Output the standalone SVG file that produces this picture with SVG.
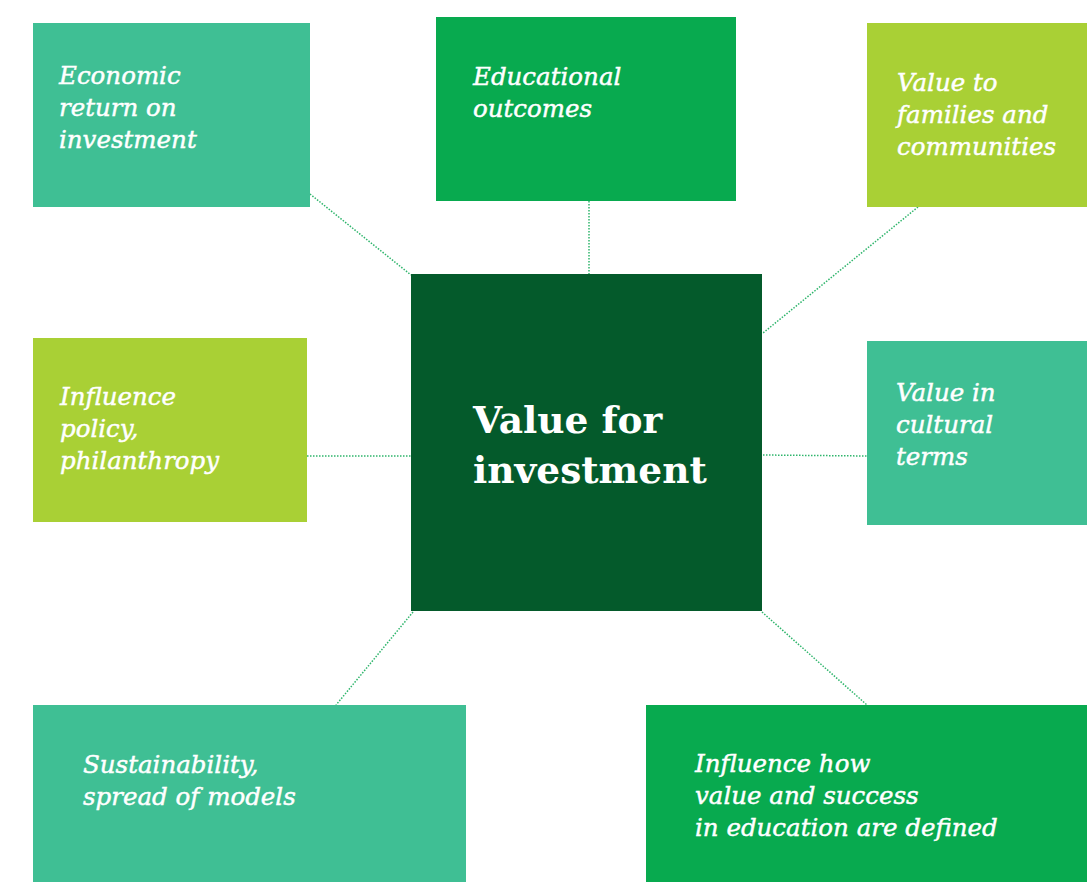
<svg xmlns="http://www.w3.org/2000/svg" width="1087" height="882" viewBox="0 0 1087 882">
<style>
.teal{fill:#3fbf94}.green{fill:#08aa4f}.lime{fill:#a9d035}.dark{fill:#045a2b}
.t{font-family:"DejaVu Serif","Liberation Serif",serif;font-style:italic;font-size:24.5px;fill:#ffffff;stroke:#ffffff;stroke-width:0.45}
.c{font-family:"DejaVu Serif","Liberation Serif",serif;font-weight:bold;font-size:37.5px;fill:#ffffff}
.ln{stroke:#2fb56c;stroke-width:1.5;stroke-dasharray:1.5 1.5;fill:none}
</style>
<rect width="1087" height="882" fill="#ffffff"/>
<g id="connectors">
<line class="ln" x1="310" y1="194" x2="411" y2="275"/>
<line class="ln" x1="589" y1="201" x2="589" y2="274"/>
<line class="ln" x1="918" y1="207" x2="763" y2="333"/>
<line class="ln" x1="307" y1="456" x2="411" y2="456"/>
<line class="ln" x1="763" y1="455" x2="867" y2="456"/>
<line class="ln" x1="413" y1="612" x2="336" y2="705"/>
<line class="ln" x1="762" y1="612" x2="867" y2="705"/>
</g>
<g id="economic"><rect class="teal" x="33" y="23" width="277" height="184"/>
<text class="t" x="59" y="84">Economic</text><text class="t" x="59" y="116">return on</text><text class="t" x="59" y="148">investment</text></g>
<g id="educational"><rect class="green" x="436" y="17" width="300" height="184"/>
<text class="t" x="473" y="85">Educational</text><text class="t" x="473" y="117">outcomes</text></g>
<g id="families"><rect class="lime" x="867" y="23" width="220" height="184"/>
<text class="t" x="897" y="91">Value to</text><text class="t" x="897" y="123">families and</text><text class="t" x="897" y="155">communities</text></g>
<g id="policy"><rect class="lime" x="33" y="338" width="274" height="184"/>
<text class="t" x="60" y="405">Influence</text><text class="t" x="60" y="437">policy,</text><text class="t" x="60" y="469">philanthropy</text></g>
<g id="center"><rect class="dark" x="411" y="274" width="351" height="337"/>
<text class="c" x="473" y="433">Value for</text><text class="c" x="473" y="483">investment</text></g>
<g id="cultural"><rect class="teal" x="867" y="341" width="220" height="184"/>
<text class="t" x="896" y="401">Value in</text><text class="t" x="896" y="433">cultural</text><text class="t" x="896" y="465">terms</text></g>
<g id="sustainability"><rect class="teal" x="33" y="705" width="433" height="177"/>
<text class="t" x="83" y="773">Sustainability,</text><text class="t" x="83" y="805">spread of models</text></g>
<g id="success"><rect class="green" x="646" y="705" width="441" height="177"/>
<text class="t" x="695" y="772">Influence how</text><text class="t" x="695" y="804">value and success</text><text class="t" x="695" y="836">in education are defined</text></g>
</svg>
